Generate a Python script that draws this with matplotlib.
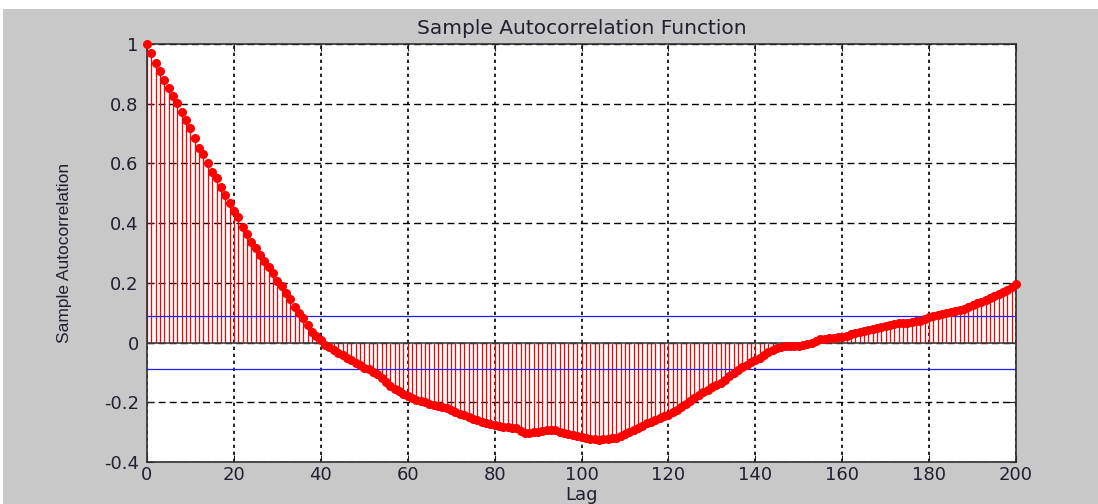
import numpy as np
import matplotlib
matplotlib.use("Agg")
import matplotlib.pyplot as plt
from matplotlib.patches import Rectangle

# ================= DATA =================
lags = list(range(201))
acf = [
    1.000, 0.970, 0.937, 0.909, 0.880, 0.852, 0.827, 0.803, 0.773, 0.745,
    0.717, 0.684, 0.651, 0.632, 0.603, 0.572, 0.550, 0.522, 0.494, 0.468,
    0.442, 0.420, 0.388, 0.364, 0.338, 0.316, 0.293, 0.274, 0.252, 0.232,
    0.207, 0.190, 0.165, 0.145, 0.120, 0.098, 0.081, 0.059, 0.036, 0.022,
    0.009, -0.008, -0.016, -0.025, -0.035, -0.043, -0.052, -0.060, -0.068, -0.076,
    -0.084, -0.090, -0.097, -0.105, -0.118, -0.132, -0.145, -0.155, -0.163, -0.172,
    -0.180, -0.186, -0.191, -0.196, -0.200, -0.205, -0.209, -0.212, -0.216, -0.220,
    -0.226, -0.232, -0.238, -0.243, -0.249, -0.255, -0.260, -0.265, -0.269, -0.273,
    -0.276, -0.280, -0.282, -0.283, -0.285, -0.287, -0.295, -0.302, -0.304, -0.300,
    -0.298, -0.296, -0.294, -0.293, -0.294, -0.298, -0.302, -0.305, -0.309, -0.314,
    -0.317, -0.320, -0.323, -0.324, -0.325, -0.324, -0.322, -0.321, -0.318, -0.312,
    -0.305, -0.298, -0.293, -0.285, -0.278, -0.271, -0.265, -0.259, -0.253, -0.247,
    -0.242, -0.234, -0.225, -0.217, -0.207, -0.197, -0.186, -0.176, -0.167, -0.158,
    -0.150, -0.143, -0.134, -0.124, -0.113, -0.103, -0.093, -0.083, -0.074, -0.066,
    -0.058, -0.050, -0.040, -0.030, -0.025, -0.019, -0.014, -0.013, -0.012, -0.011,
    -0.011, -0.008, -0.005, 0.000, 0.006, 0.011, 0.013, 0.015, 0.016, 0.017,
    0.018, 0.022, 0.028, 0.033, 0.036, 0.039, 0.042, 0.045, 0.048, 0.052,
    0.056, 0.059, 0.062, 0.064, 0.066, 0.067, 0.069, 0.071, 0.073, 0.079,
    0.086, 0.090, 0.094, 0.097, 0.100, 0.102, 0.105, 0.108, 0.112, 0.118,
    0.125, 0.131, 0.137, 0.142, 0.148, 0.155, 0.162, 0.168, 0.176, 0.186,
    0.195,
]
conf_bound = 0.089

xticks = [0, 20, 40, 60, 80, 100, 120, 140, 160, 180, 200]
yticks = [-0.4, -0.2, 0, 0.2, 0.4, 0.6, 0.8, 1]
ytick_labels = ["-0.4", "-0.2", "0", "0.2", "0.4", "0.6", "0.8", "1"]

# ================= PLOT =================
plt.rcParams['font.family'] = ['DejaVu Sans']
txt_col = '#202030'

fig = plt.figure(figsize=(10.98, 5.04), dpi=100, facecolor='#c8c8c8')
# white strips at top and left edges of the screenshot
fig.patches.append(Rectangle((0, 1 - 9 / 504), 1, 9 / 504, transform=fig.transFigure,
                             facecolor='white', edgecolor='none', zorder=0))
fig.patches.append(Rectangle((0, 0), 3 / 1098, 1, transform=fig.transFigure,
                             facecolor='white', edgecolor='none', zorder=0))

ax = fig.add_axes([147 / 1098, 1 - 462 / 504, (1016 - 147) / 1098, (462 - 44) / 504])
ax.set_facecolor('white')

markerline, stemlines, baseline = ax.stem(lags, acf, linefmt='-', markerfmt='o', basefmt='-')
plt.setp(stemlines, color='red', linewidth=0.9, zorder=2)
plt.setp(markerline, color='red', markersize=5.5, markeredgecolor='red', zorder=4)
markerline.set_clip_on(False)
plt.setp(baseline, color='#404040', linewidth=1.2, zorder=3)

ax.axhline(conf_bound, color='#2020ff', linewidth=0.9, zorder=3)
ax.axhline(-conf_bound, color='#2020ff', linewidth=0.9, zorder=3)

ax.set_xlim(0, 200)
ax.set_ylim(-0.4, 1)
ax.set_xticks(xticks)
ax.set_yticks(yticks)
ax.set_yticklabels(ytick_labels)
ax.xaxis.grid(True, color='black', linestyle=(0, (2.0, 2.2)), linewidth=1.2)
ax.yaxis.grid(True, color='black', linestyle=(0, (5, 3)), linewidth=1.0)
ax.set_axisbelow(True)
ax.tick_params(direction='in', top=True, right=True, length=5, labelsize=13,
               colors=txt_col, pad=3)
ax.tick_params(axis='y', pad=6)
for s in ax.spines.values():
    s.set_color('#303030')
    s.set_linewidth(1.2)

ax.set_title('Sample Autocorrelation Function', fontsize=14.5, color=txt_col, pad=7)
ax.set_xlabel('Lag', fontsize=13, color=txt_col)
ax.xaxis.set_label_coords(0.5, -0.058)
ax.set_ylabel('Sample Autocorrelation', fontsize=12.5, color=txt_col,
              family=['Liberation Sans', 'DejaVu Sans'])
ax.yaxis.set_label_coords(-0.086, 0.5)

fig.savefig('out.png', dpi=100, facecolor=fig.get_facecolor())
